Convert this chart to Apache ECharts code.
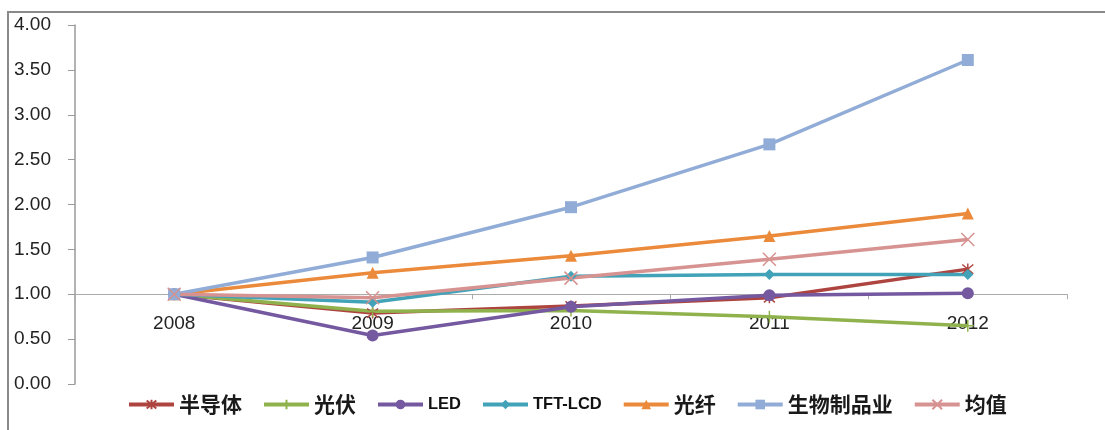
<!DOCTYPE html>
<html>
<head>
<meta charset="utf-8">
<script src="https://cdn.jsdelivr.net/npm/echarts@6/dist/echarts.min.js"></script>
<style>html,body{margin:0;padding:0;background:#fff;}#c{width:1105px;height:430px;}</style>
</head>
<body>
<div id="c"></div>
<script>
var categories = ['2008', '2009', '2010', '2011', '2012'];
var seriesNames = ['半导体', '光伏', 'LED', 'TFT-LCD', '光纤', '生物制品业', '均值'];
var semiconductor = [1.00, 0.79, 0.87, 0.96, 1.28];
var photovoltaic = [1.00, 0.81, 0.82, 0.75, 0.65];
var led = [1.00, 0.54, 0.86, 0.99, 1.01];
var tftlcd = [1.00, 0.91, 1.20, 1.22, 1.22];
var fiber = [1.00, 1.24, 1.43, 1.65, 1.90];
var biopharma = [1.00, 1.41, 1.97, 2.67, 3.61];
var average = [1.00, 0.96, 1.18, 1.39, 1.61];
var yMin = 0, yMax = 4, yInterval = 0.5, xCross = 1.0;

var colors = ['#AE4440', '#8FB24D', '#7459A0', '#42A2B8', '#EB8A3A', '#91ACD6', '#D69391'];
var dataList = [semiconductor, photovoltaic, led, tftlcd, fiber, biopharma, average];
var symbols = [
  'path://M0,0L10,10M10,0L0,10M5,-1L5,11',
  'path://M5,0L5,10M0,5L10,5',
  'circle',
  'diamond',
  'triangle',
  'rect',
  'path://M0,0L10,10M10,0L0,10'
];
var symbolSizes = [11, 12, 12, 11, 12, 12, 13];
var strokeSymbols = [true, true, false, false, false, false, true];

var gridTop = 25, gridBottom = 46, chartH = 430;
var gridHeight = chartH - gridTop - gridBottom;
var xOffset = -gridHeight * (xCross - yMin) / (yMax - yMin);

var chart = echarts.init(document.getElementById('c'));
var series = seriesNames.map(function (n, i) {
  return {
    name: n,
    type: 'line',
    data: dataList[i],
    symbol: symbols[i],
    symbolSize: symbolSizes[i],
    showAllSymbol: true,
    lineStyle: { width: 3.5, color: colors[i] },
    itemStyle: strokeSymbols[i]
      ? { color: colors[i], borderColor: colors[i], borderWidth: 1.5 }
      : { color: colors[i], borderWidth: 0 },
    emphasis: { disabled: true },
    animation: false
  };
});

chart.setOption({
  animation: false,
  backgroundColor: '#fff',
  graphic: [{
    type: 'rect',
    shape: { x: 8, y: 12, width: 1200, height: 600 },
    style: { fill: 'none', stroke: '#8a8a8a', lineWidth: 2 },
    silent: true
  }],
  grid: { left: 75, right: 38, top: gridTop, bottom: gridBottom, containLabel: false },
  legend: {
    data: seriesNames,
    left: 127,
    top: 394,
    padding: 0,
    itemWidth: 45,
    itemHeight: 12,
    itemGap: 20,
    lineStyle: { width: 4 },
    formatter: function (n) {
      return /^[A-Za-z]/.test(n) ? '{b|' + n + '}' : '{c|' + n + '}';
    },
    textStyle: {
      color: '#111',
      rich: {
        b: { fontFamily: 'Liberation Sans', fontWeight: 'bold', fontSize: 16.5, color: '#111' },
        c: { fontFamily: 'Noto Sans CJK SC', fontWeight: 'bold', fontSize: 21, color: '#1a1a1a' }
      }
    }
  },
  xAxis: {
    type: 'category',
    data: categories,
    boundaryGap: true,
    position: 'bottom',
    offset: xOffset,
    axisLine: { show: true, onZero: false, lineStyle: { color: '#ababab', width: 1.2 } },
    axisTick: { show: true, length: 5, alignWithLabel: false, lineStyle: { color: '#ababab' } },
    axisLabel: { margin: 20, fontFamily: 'Liberation Sans', fontSize: 19, color: '#222' },
    splitLine: { show: false }
  },
  yAxis: {
    type: 'value',
    min: yMin,
    max: yMax,
    interval: yInterval,
    axisLine: { show: true, lineStyle: { color: '#9a9a9a', width: 1.5 } },
    axisTick: { show: true, length: 7, lineStyle: { color: '#9a9a9a' } },
    axisLabel: {
      margin: 24,
      fontFamily: 'Liberation Sans',
      fontSize: 19,
      color: '#222',
      formatter: function (v) { return v.toFixed(2); }
    },
    splitLine: { show: false }
  },
  series: series
});
</script>
</body>
</html>
